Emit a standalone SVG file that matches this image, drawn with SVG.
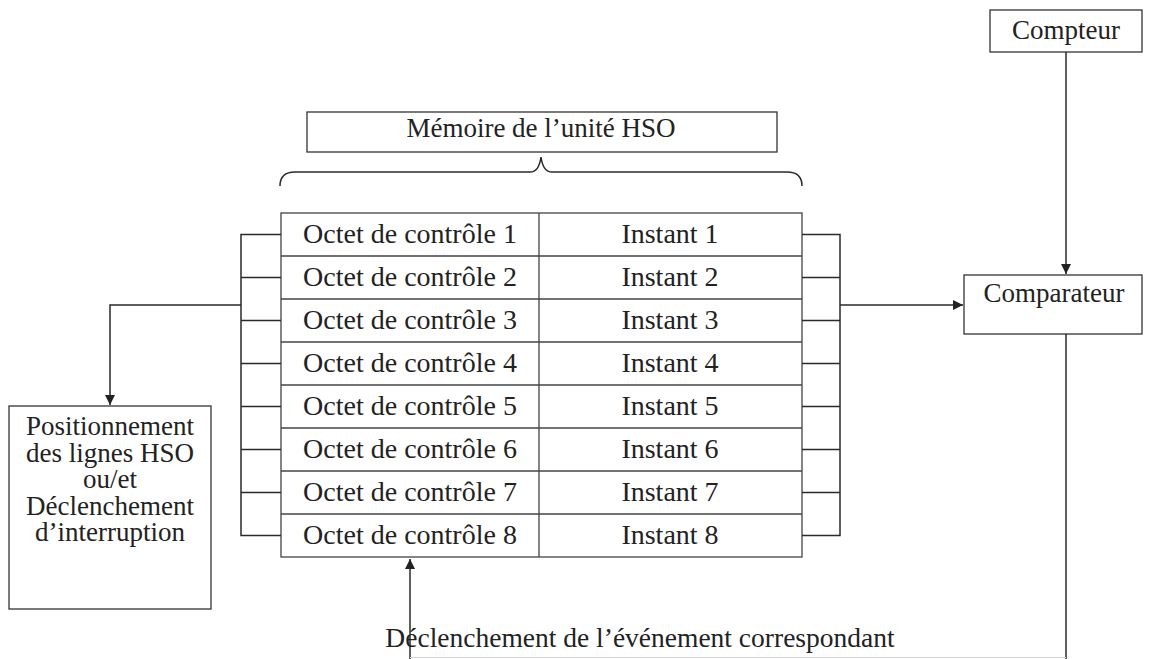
<svg xmlns="http://www.w3.org/2000/svg" width="1163" height="659" viewBox="0 0 1163 659">
<style>
text{font-family:"Liberation Serif","Times New Roman",serif;font-size:27px;fill:#222;text-anchor:middle}
text.t{font-size:28px}
text.b{font-size:27.5px}
.box{fill:#fff;stroke:#333;stroke-width:1.3}
.ln{fill:none;stroke:#2a2a2a;stroke-width:1.5}
.tb{fill:none;stroke:#444;stroke-width:1.3}
</style>
<defs>
<marker id="ah" viewBox="0 0 10 10" refX="10" refY="5" markerWidth="10" markerHeight="10" markerUnits="userSpaceOnUse" orient="auto">
<path d="M0,0 L10,5 L0,10 Z" fill="#222"/>
</marker>
</defs>
<rect width="1163" height="659" fill="#fff"/>

<g id="compteur">
<rect class="box" x="990" y="10" width="152" height="42"/>
<text x="1066" y="39">Compteur</text>
</g>

<g id="memoire-label">
<rect class="box" x="307" y="112" width="470" height="40"/>
<text x="541" y="137">Mémoire de l’unité HSO</text>
<path class="ln" d="M280,186 Q280,172 295,172 L530,172 Q539,172 541,157 Q543,172 552,172 L787,172 Q802,172 802,186"/>
</g>

<g id="memoire-table">
<rect class="tb" x="281" y="213" width="521" height="344"/>
<path class="tb" d="M539,213 V557 M281,256 H802 M281,299 H802 M281,342 H802 M281,385 H802 M281,428 H802 M281,471 H802 M281,514 H802"/>
<text class="t" x="410" y="243">Octet de contrôle 1</text>
<text class="t" x="410" y="286">Octet de contrôle 2</text>
<text class="t" x="410" y="329">Octet de contrôle 3</text>
<text class="t" x="410" y="372">Octet de contrôle 4</text>
<text class="t" x="410" y="415">Octet de contrôle 5</text>
<text class="t" x="410" y="458">Octet de contrôle 6</text>
<text class="t" x="410" y="501">Octet de contrôle 7</text>
<text class="t" x="410" y="544">Octet de contrôle 8</text>
<text class="t" x="670" y="243">Instant 1</text>
<text class="t" x="670" y="286">Instant 2</text>
<text class="t" x="670" y="329">Instant 3</text>
<text class="t" x="670" y="372">Instant 4</text>
<text class="t" x="670" y="415">Instant 5</text>
<text class="t" x="670" y="458">Instant 6</text>
<text class="t" x="670" y="501">Instant 7</text>
<text class="t" x="670" y="544">Instant 8</text>
</g>

<g id="comparateur">
<rect class="box" x="964" y="275" width="178" height="59"/>
<text x="1054" y="302">Comparateur</text>
</g>

<g id="positionnement">
<rect class="box" x="9" y="406" width="202" height="203"/>
<text x="110" y="435"><tspan x="110">Positionnement</tspan><tspan x="110" dy="26.5">des lignes HSO</tspan><tspan x="110" dy="26.5">ou/et</tspan><tspan x="110" dy="26.5">Déclenchement</tspan><tspan x="110" dy="26.5">d’interruption</tspan></text>
</g>

<g id="connectors">
<path class="ln" d="M281,234.5 H241 V535.5 H281 M241,277.5 H281 M241,320.5 H281 M241,363.5 H281 M241,406.5 H281 M241,449.5 H281 M241,492.5 H281"/>
<path class="ln" d="M802,234.5 H840 V535.5 H802 M840,277.5 H802 M840,320.5 H802 M840,363.5 H802 M840,406.5 H802 M840,449.5 H802 M840,492.5 H802"/>
<path class="ln" d="M241,305 H110 V405" marker-end="url(#ah)"/>
<path class="ln" d="M840,305 H963" marker-end="url(#ah)"/>
<path class="ln" d="M1066,52 V274" marker-end="url(#ah)"/>
<path class="ln" d="M1066,334 V659"/>
<path class="ln" d="M410,659 V559" marker-end="url(#ah)"/>
<path fill="none" stroke="#d6d6d6" stroke-width="1.2" d="M410,657.5 H1066"/>
<text class="b" x="640" y="647">Déclenchement de l’événement correspondant</text>
</g>
</svg>
